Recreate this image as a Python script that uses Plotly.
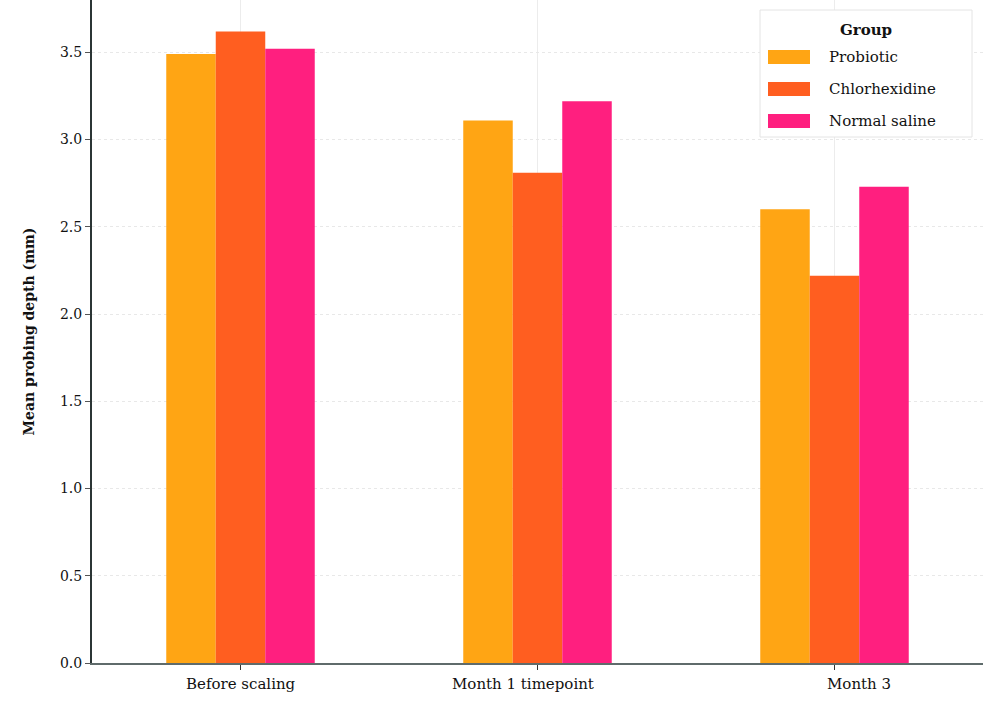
import plotly.graph_objects as go

categories = ["Before scaling", "Month 1 timepoint", "Month 3"]
probiotic = [3.49, 3.11, 2.60]
chlorhexidine = [3.62, 2.81, 2.22]
saline = [3.52, 3.22, 2.73]
series_names = ["Probiotic", "Chlorhexidine", "Normal saline"]
legend_title = "Group"
y_title = "Mean probing depth (mm)"
colors = ["#FFA514", "#FF5E20", "#FF1F7F"]

font_family = "DejaVu Serif"
W, H = 1000, 706
ML, MR, MT, MB = 92, 17, 0, 43
PW, PH = W - ML - MR, H - MT - MB


def px_x(p):
    return (p - ML) / PW


def px_y(p):
    return (H - MB - p) / PH


fig = go.Figure()
for name, vals, col in zip(series_names, [probiotic, chlorhexidine, saline], colors):
    fig.add_trace(go.Bar(x=categories, y=vals, name=name, showlegend=False,
                         marker=dict(color=col, line=dict(width=0))))

# x category labels (slightly offset as in the reference)
label_shift = [0, -15, 24]
for cat, dx in zip(categories, label_shift):
    fig.add_annotation(x=cat, y=0, xref="x", yref="y", text=cat, showarrow=False,
                       yanchor="top", yshift=-10, xshift=dx,
                       font=dict(size=15, family=font_family, color="#111"))

# legend box drawn manually
fig.add_shape(type="rect", xref="paper", yref="paper",
              x0=px_x(760), x1=px_x(972), y0=px_y(137), y1=px_y(10),
              line=dict(color="#e4e4e4", width=1), fillcolor="white", layer="above")
fig.add_annotation(xref="paper", yref="paper", x=px_x(866), y=px_y(30), text="<b>" + legend_title + "</b>",
                   showarrow=False, xanchor="center", yanchor="middle",
                   font=dict(size=15, family=font_family, color="#111"))
row_y = [57, 89, 121]
for name, col, ry in zip(series_names, colors, row_y):
    fig.add_shape(type="rect", xref="paper", yref="paper",
                  x0=px_x(768), x1=px_x(810), y0=px_y(ry + 7), y1=px_y(ry - 7),
                  line=dict(width=0), fillcolor=col, layer="above")
    fig.add_annotation(xref="paper", yref="paper", x=px_x(827), y=px_y(ry), text=name,
                       showarrow=False, xanchor="left", yanchor="middle",
                       font=dict(size=15, family=font_family, color="#111"))

fig.update_layout(
    width=W, height=H,
    margin=dict(l=ML, r=MR, t=MT, b=MB, autoexpand=False),
    plot_bgcolor="white", paper_bgcolor="white",
    barmode="group", bargap=0.5, bargroupgap=0,
    font=dict(family=font_family, size=13, color="#111"),
    showlegend=False,
)
fig.update_xaxes(
    range=[-0.5, 2.5], showline=True, linecolor="#5f6b6b", linewidth=2,
    ticks="outside", ticklen=5, tickcolor="#333",
    showgrid=True, gridcolor="#ececec", gridwidth=1,
    showticklabels=False, automargin=False,
)
fig.update_yaxes(
    range=[0, 3.8], dtick=0.5, tickformat=".1f", showline=True, linecolor="#2b3535", linewidth=2,
    ticks="outside", ticklen=5, tickcolor="#555",
    showgrid=True, gridcolor="#e8e8e8", gridwidth=1, griddash="dot",
    zeroline=False, automargin=False,
    title=dict(text="<b>" + y_title + "</b>", font=dict(size=14), standoff=22),
    tickfont=dict(size=14),
)

fig.write_html("out.html", config={"displayModeBar": False},
               post_script="document.body.style.margin='0';")
